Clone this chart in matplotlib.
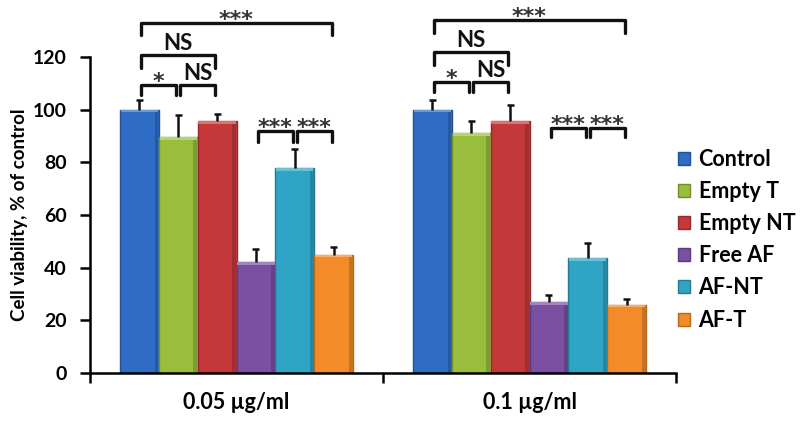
import matplotlib.pyplot as plt
import matplotlib.colors as mcolors
import numpy as np

plt.rcParams['font.family'] = ['Lato', 'DejaVu Sans']
plt.rcParams['font.weight'] = 'bold'

# data
groups = ['0.05 \u00b5g/ml', '0.1 \u00b5g/ml']
series = ['Control', 'Empty T', 'Empty NT', 'Free AF', 'AF-NT', 'AF-T']
colors = ['#2F6CC4', '#99BE3E', '#C4383A', '#7B4FA2', '#2FA4C4', '#F28B28']
values_lo = [100, 89.5, 95.7, 42, 77.7, 45]      # 0.05 ug/ml
values_hi = [100, 91, 95.7, 27, 43.5, 26]        # 0.1 ug/ml
err_lo = [3.8, 8.5, 2.5, 5, 7.3, 2.8]
err_hi = [3.8, 4.7, 6, 2.8, 6, 2.2]

# significance brackets: (group, bar a, bar b, leg bottom, top, label)
brackets = [
    (0, 0, 1, 105.6, 109.4, '*'),
    (0, 1, 2, 105.6, 109.4, 'NS'),
    (0, 0, 2, 116.0, 120.8, 'NS'),
    (0, 0, 5, 128.4, 133.0, '***'),
    (0, 3, 4, 87.8, 92.0, '***'),
    (0, 4, 5, 87.8, 92.0, '***'),
    (1, 0, 1, 106.8, 110.6, '*'),
    (1, 1, 2, 106.8, 110.6, 'NS'),
    (1, 0, 2, 117.0, 122.0, 'NS'),
    (1, 0, 5, 129.0, 134.0, '***'),
    (1, 3, 4, 89.5, 93.0, '***'),
    (1, 4, 5, 89.5, 93.0, '***'),
]

fig = plt.figure(figsize=(8, 4.23), dpi=100)
ax = fig.add_axes([90 / 800, 50 / 423, 586 / 800, 316 / 423])

bar_w = 0.1325
n = len(series)
vals = [values_lo, values_hi]
errs = [err_lo, err_hi]


def bar_x(g, k):
    return g + 0.5 + (k - (n - 1) / 2) * bar_w


def shade(c, f):
    rgb = np.array(mcolors.to_rgb(c))
    if f >= 1:
        return tuple(rgb + (1 - rgb) * (f - 1))
    return tuple(rgb * f)


for k in range(n):
    xs = np.array([bar_x(g, k) for g in range(2)])
    ys = np.array([vals[g][k] for g in range(2)])
    es = np.array([errs[g][k] for g in range(2)])
    ax.bar(xs, ys, width=bar_w, color=colors[k], edgecolor=shade(colors[k], 0.75),
           linewidth=1, label=series[k], zorder=2)
    # bevel look: dark right edge, light top edge
    ax.bar(xs + bar_w * 0.44, ys, width=bar_w * 0.1, color=shade(colors[k], 0.82),
           linewidth=0, zorder=2.1)
    ax.bar(xs, np.full(2, 1.0), bottom=ys - 1.0, width=bar_w * 0.96,
           color=shade(colors[k], 1.3), linewidth=0, zorder=2.2)
    # upper error bar only, cap on top
    ax.vlines(xs, ys, ys + es, color='#111111', lw=1.8, zorder=3)
    ax.hlines(ys + es, xs - 0.012, xs + 0.012, color='#111111', lw=1.8, zorder=3)

for g, a, b, ylo, yhi, lab in brackets:
    x1 = bar_x(g, a) + 0.007
    x2 = bar_x(g, b) - 0.007
    ax.plot([x1, x1, x2, x2], [ylo, yhi, yhi, ylo], color='#111111', lw=2.4,
            solid_joinstyle='round', solid_capstyle='round', clip_on=False, zorder=4)
    if lab == 'NS':
        ax.text((x1 + x2) / 2, yhi + 0.4, lab, ha='center', va='bottom',
                fontsize=16, fontweight='bold', color='#111111')
    else:
        ax.text((x1 + x2) / 2, yhi - 2.6, lab, ha='center', va='bottom',
                fontsize=16, fontweight='bold', color='#333333', family='DejaVu Sans')

ax.set_xlim(0, 2)
ax.set_ylim(0, 120)
ax.set_yticks(np.arange(0, 121, 20))
ax.set_xticks([0.5, 1.5])
ax.set_xticklabels(groups)
ax.set_xticks([0, 1, 2], minor=True)
ax.tick_params(axis='x', which='major', length=0, pad=14, labelsize=15.5)
ax.tick_params(axis='x', which='minor', length=7, width=1.8, direction='out')
ax.tick_params(axis='y', length=7, width=1.8, labelsize=14, pad=10)
for s in ['top', 'right']:
    ax.spines[s].set_visible(False)
for s in ['left', 'bottom']:
    ax.spines[s].set_linewidth(1.8)
ax.set_ylabel('Cell viability, % of control', fontsize=13.5, fontweight='bold')
ax.yaxis.set_label_coords(-0.106, 0.5)

ax.legend(loc='center left', bbox_to_anchor=(1.0, 0.422), frameon=False,
          fontsize=15.5, handlelength=0.55, handleheight=0.55, labelspacing=0.52,
          handletextpad=0.4, borderaxespad=0, borderpad=0.1)

fig.savefig('out.png', dpi=100)
